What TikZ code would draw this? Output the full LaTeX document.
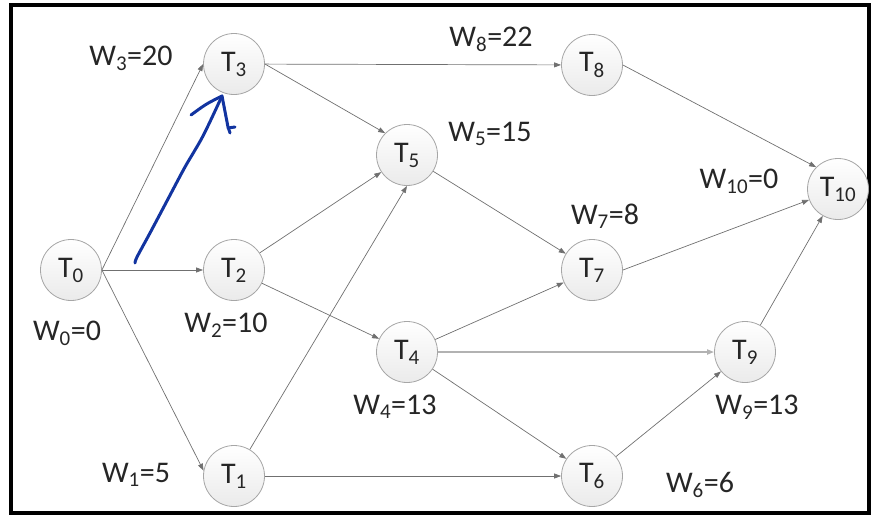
\documentclass[tikz,border=0pt]{standalone}
\usepackage{fontspec}
\setmainfont{Carlito}
\usepackage{xcolor}
\usepackage{tikz}
\usetikzlibrary{arrows.meta}

\definecolor{edgegray}{RGB}{112,112,112}
\definecolor{inkblue}{RGB}{18,52,160}

\begin{document}
\begin{tikzpicture}[x=1pt,y=-1pt,
	task/.style={circle,draw=black!35,line width=0.8pt,top color=white,bottom color=black!8,minimum size=61pt,inner sep=0pt,text=black!85,font=\fontsize{30}{32}\selectfont},
	wlabel/.style={anchor=base,inner sep=0pt,text=black!85,font=\fontsize{30}{32}\selectfont},
	dep/.style={draw=edgegray,line width=0.7pt,-{Triangle[length=7pt,width=5pt]}},
	ink/.style={inkblue,line width=3pt,line cap=round,line join=round}]
	\useasboundingbox (0,0) rectangle (874,517);
	\draw[line width=4.5pt] (11,5) rectangle (869,513);

	\node[task] (T0) at (71,270) {T\textsubscript{0}};
	\node[task] (T1) at (234,476) {T\textsubscript{1}};
	\node[task] (T2) at (234,270) {T\textsubscript{2}};
	\node[task] (T3) at (234,64) {T\textsubscript{3}};
	\node[task] (T4) at (407,352) {T\textsubscript{4}};
	\node[task] (T5) at (407,155) {T\textsubscript{5}};
	\node[task] (T6) at (592,476) {T\textsubscript{6}};
	\node[task] (T7) at (592,270) {T\textsubscript{7}};
	\node[task] (T8) at (592,65) {T\textsubscript{8}};
	\node[task] (T9) at (745,352) {T\textsubscript{9}};
	\node[task] (T10) at (838,189) {T\textsubscript{10}};

	\node[wlabel] (w0) at (67,340) {W\textsubscript{0}=0};
	\node[wlabel] (w1) at (136,482) {W\textsubscript{1}=5};
	\node[wlabel] (w2) at (226,332) {W\textsubscript{2}=10};
	\node[wlabel] (w3) at (131,65) {W\textsubscript{3}=20};
	\node[wlabel] (w4) at (395,414) {W\textsubscript{4}=13};
	\node[wlabel] (w5) at (490,141) {W\textsubscript{5}=15};
	\node[wlabel] (w6) at (700,492) {W\textsubscript{6}=6};
	\node[wlabel] (w7) at (605,224) {W\textsubscript{7}=8};
	\node[wlabel] (w8) at (491,46) {W\textsubscript{8}=22};
	\node[wlabel] (w9) at (757,414) {W\textsubscript{9}=13};
	\node[wlabel] (w10) at (739,188) {W\textsubscript{10}=0};

	\draw[dep] (T0.east) -- (T3.west);
	\draw[dep] (T0) -- (T2);
	\draw[dep] (T0.east) -- (T1.170);
	\draw[dep] (T3) -- (T8);
	\draw[dep] (T3.east) -- (T5.north west);
	\draw[dep] (T2) -- (T5);
	\draw[dep] (T2) -- (T4);
	\draw[dep] (T1) -- (T5.south);
	\draw[dep] (T1) -- (T6);
	\draw[dep] (T5) -- (T7);
	\draw[dep] (T4) -- (T7);
	\draw[dep,draw=black!30,line width=2pt] (T4) -- (T9);
	\draw[dep] (T4) -- (T6);
	\draw[dep] (T6) -- (T9);
	\draw[dep] (T8.east) -- (T10.north west);
	\draw[dep] (T7.east) -- (T10);
	\draw[dep] (T9) -- (T10);

	\draw[ink] plot[smooth] coordinates {(135,263) (137,257) (150,233) (168,199) (185,167) (203,136) (222,96)};
	\draw[ink] (191,115) .. controls (206,104) .. (222,96) -- (228,127) -- (230,133);
	\draw[ink] (228,128) -- (235,127);
\end{tikzpicture}
\end{document}
